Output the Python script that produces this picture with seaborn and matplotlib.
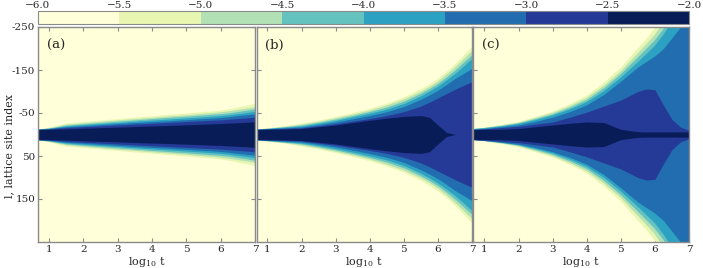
import numpy as np
import matplotlib
matplotlib.use("Agg")
import matplotlib.pyplot as plt
from matplotlib.colors import ListedColormap, BoundaryNorm
from matplotlib.cm import ScalarMappable
import seaborn as sns

sns.set_style("ticks")
plt.rcParams['font.family'] = ['DejaVu Serif']
plt.rcParams['mathtext.fontset'] = 'dejavuserif'

# contour levels (log10 of the density) and colourbar ticks
LEVELS = [-6.0, -5.5, -5.0, -4.5, -4.0, -3.5, -3.0, -2.5, -2.0]

# sampled times (log10 t)
T = [0.68, 1.0, 1.5, 2.0, 2.5, 3.0, 3.5, 4.0, 4.5, 5.0, 5.5, 5.75, 6.0, 6.25, 6.5, 6.75, 7.0]

# half-widths |l| of each contour boundary (rows: -5.5 ... -2.5)
WIDTH_A = [
    [13, 17, 27, 30, 33.5, 37, 40.5, 43.5, 47, 50, 53.5, 55, 57, 60, 64, 68, 73],
    [12.8, 16, 24, 27.5, 30.8, 34, 37, 40, 43, 46, 49.5, 51, 53, 55.5, 58.5, 61.5, 65],
    [12.6, 15, 22, 25, 28, 31, 34, 37, 40, 42.5, 45.5, 47, 48.5, 50.5, 53.5, 56.5, 60],
    [12.4, 14.5, 20, 23, 25.5, 28, 31, 33.5, 36, 38.5, 41, 42.5, 44, 46, 48.5, 51, 54],
    [12.2, 14, 18, 20.5, 23, 25.5, 27.8, 30, 32, 34.5, 37, 38, 39.5, 41.5, 44, 46, 48],
    [12.0, 13, 16, 18, 20, 22, 24, 26, 28, 30, 32, 33, 34, 35.5, 37, 38.5, 40.5],
    [11.5, 12, 13, 14.5, 15.8, 17, 18.5, 20, 21, 22.5, 24, 24.8, 25.5, 26.5, 27.5, 28.5, 30],
]
WIDTH_B = [
    [13, 15.5, 20, 26.5, 33.5, 42, 51, 61, 73, 88, 107, 118, 131, 147, 165, 185, 206],
    [12.8, 15, 19, 24.5, 31, 39, 47.5, 57, 69, 83, 101, 112, 125, 141, 158, 177, 196],
    [12.6, 14.5, 18, 22, 28.5, 36, 44.5, 53.5, 64, 77.5, 96, 107, 119, 134, 150, 168, 186],
    [12.4, 14, 17, 20, 26, 33, 41, 49.5, 59, 72, 90, 101, 113, 127, 142, 159, 177],
    [12.2, 13.5, 15.5, 17.5, 23, 29, 36.5, 44, 53, 65, 82, 92, 103, 116, 130, 142, 154],
    [12.0, 13, 14, 15.5, 20, 25, 31, 37, 44, 53, 66, 75, 85, 95, 105, 114, 123],
    [11.5, 12, 12.5, 14, 18, 22, 27.5, 33, 38, 42, 44, 40, 22, 5, 0, 0, 0],
]
WIDTH_C = [
    [13, 16, 22, 29, 41, 53, 70, 90, 120, 155, 200, 222, 247, 280, 315, 350, 390],
    [12.8, 15.5, 21, 27.5, 38.5, 50, 66, 85, 113, 147, 189, 210, 232, 262, 295, 330, 365],
    [12.6, 15, 20, 26, 36, 47, 62, 80, 107, 140, 179, 199, 219, 245, 275, 308, 342],
    [12.4, 14.5, 19, 24.5, 33.5, 44, 58, 75, 100, 132, 168, 187, 206, 232, 262, 292, 325],
    [12.2, 14, 18, 22.5, 30.5, 40, 53, 69, 93, 124, 157, 170, 183, 200, 225, 250, 280],
    [12.0, 13, 16, 19, 24, 29, 40, 52, 66, 80, 100, 106, 104, 68, 35, 17, 10],
    [11.5, 12, 12, 14, 18, 22, 26, 29, 28, 12, 6.5, 6, 6, 6, 6, 6, 6],
]
PANEL_LABELS = ["(a)", "(b)", "(c)"]
XTICKS = [1, 2, 3, 4, 5, 6, 7]
YTICKS = [-250, -150, -50, 50, 150]
YTICKLABELS = ["-250", "-150", "-50", "50", "150"]

# band colours from the seaborn YlGnBu map, one per band between LEVELS
cmap_full = sns.color_palette("YlGnBu", as_cmap=True)
n_bands = len(LEVELS) - 1
band_colors = [cmap_full(i / (n_bands - 1)) for i in range(n_bands)]
band_cmap = ListedColormap(band_colors)
band_norm = BoundaryNorm(LEVELS, n_bands)

W_PX, H_PX = 703, 268
fig = plt.figure(figsize=(W_PX / 100, H_PX / 100), dpi=100)

lefts = [38, 256.5, 473.5]
widths_px = [217, 215.5, 215.5]
top_px, bot_px = 27, 242
spine_col = "#8a8a8a"
for i, (wd, lab) in enumerate(zip([WIDTH_A, WIDTH_B, WIDTH_C], PANEL_LABELS)):
    ax = fig.add_axes([lefts[i] / W_PX, 1 - bot_px / H_PX,
                       widths_px[i] / W_PX, (bot_px - top_px) / H_PX])
    ax.set_facecolor(band_colors[0])
    for k, w in enumerate(wd):
        w = np.asarray(w, dtype=float)
        ax.fill_between(T, -w, w, color=band_colors[k + 1], linewidth=0, zorder=1 + k)
    ax.set_xlim(0.68, 7.0)
    ax.set_ylim(250, -250)
    ax.set_xticks(XTICKS)
    ax.set_xticklabels([str(x) for x in XTICKS])
    ax.set_yticks(YTICKS)
    if i == 0:
        ax.set_yticklabels(YTICKLABELS)
    else:
        ax.set_yticklabels([])
    ax.tick_params(direction="in", top=True, right=True, length=3, width=0.8,
                   color=spine_col, labelsize=7.5, pad=2)
    for s in ax.spines.values():
        s.set_color(spine_col)
        s.set_linewidth(1.0)
        s.set_zorder(20)
    ax.set_xlabel(r"log$_{10}$ t", fontsize=8, labelpad=1)
    ax.text(0.04, 0.915, lab, transform=ax.transAxes, fontsize=9.5,
            va="center", ha="left", zorder=30)

fig.text(0.013, 0.455, "l, lattice site index", rotation=90, va="center",
         ha="center", fontsize=8)

cax = fig.add_axes([38 / W_PX, 1 - 24 / H_PX, (689 - 38) / W_PX, 13 / H_PX])
sm = ScalarMappable(norm=band_norm, cmap=band_cmap)
cb = fig.colorbar(sm, cax=cax, orientation="horizontal", ticks=LEVELS)
cax.xaxis.set_ticks_position("top")
cax.tick_params(length=0, labelsize=7.5, pad=1)
cb.outline.set_edgecolor(spine_col)
cb.outline.set_linewidth(0.8)

fig.savefig("out.png", dpi=100)
